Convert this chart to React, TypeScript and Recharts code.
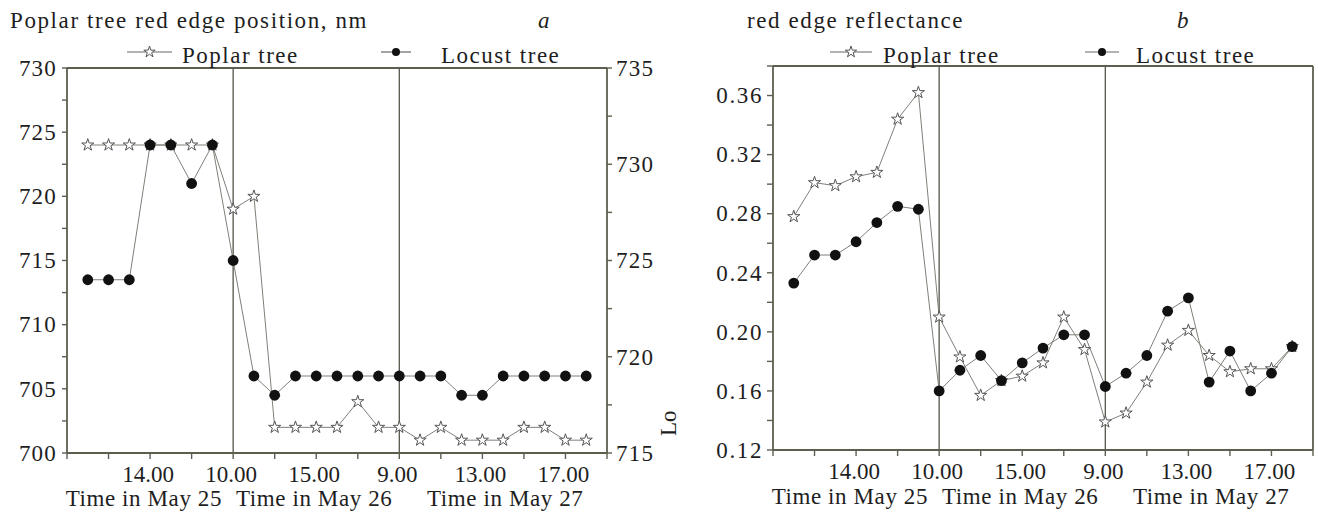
import React from 'react';
import { LineChart, Line, XAxis, YAxis, ReferenceLine, Legend, Symbols } from 'recharts';

// ---------- data ----------
const sampleIndex = [1, 2, 3, 4, 5, 6, 7, 8, 9, 10, 11, 12, 13, 14, 15, 16, 17, 18, 19, 20, 21, 22, 23, 24, 25];

// red edge position (nm): poplar on left axis, locust on right axis
const poplarPosition = [724, 724, 724, 724, 724, 724, 724, 719, 720, 702, 702, 702, 702, 704, 702, 702, 701, 702, 701, 701, 701, 702, 702, 701, 701];
const locustPosition = [724, 724, 724, 731, 731, 729, 731, 725, 719, 718, 719, 719, 719, 719, 719, 719, 719, 719, 718, 718, 719, 719, 719, 719, 719];

// red edge reflectance
const poplarReflectance = [0.278, 0.301, 0.299, 0.305, 0.308, 0.344, 0.362, 0.210, 0.183, 0.157, 0.167, 0.170, 0.179, 0.210, 0.188, 0.139, 0.145, 0.166, 0.191, 0.201, 0.184, 0.173, 0.175, 0.175, 0.190];
const locustReflectance = [0.233, 0.252, 0.252, 0.261, 0.274, 0.285, 0.283, 0.160, 0.174, 0.184, 0.167, 0.179, 0.189, 0.198, 0.198, 0.163, 0.172, 0.184, 0.214, 0.223, 0.166, 0.187, 0.160, 0.172, 0.190];

// x axis
const xTicks = [0, 2, 4, 6, 8, 10, 12, 14, 16, 18, 20, 22, 24, 26];
const xTickLabels = ['', '', '14.00', '', '10.00', '', '15.00', '', '9.00', '', '13.00', '', '17.00', ''];
const dayBoundaries = [8, 16];
const dayLabelTicks = [3.7, 11.9, 21.1];
const dayLabels = ['Time in May 25', 'Time in May 26', 'Time in May 27'];

// y axes
const positionLeftTicks = [700, 702.5, 705, 707.5, 710, 712.5, 715, 717.5, 720, 722.5, 725, 727.5, 730];
const positionLeftLabels = ['700', '', '705', '', '710', '', '715', '', '720', '', '725', '', '730'];
const positionRightTicks = [715, 717.5, 720, 722.5, 725, 727.5, 730, 732.5, 735];
const positionRightLabels = ['715', '', '720', '', '725', '', '730', '', '735'];
const reflectanceTicks = [0.12, 0.14, 0.16, 0.18, 0.2, 0.22, 0.24, 0.26, 0.28, 0.3, 0.32, 0.34, 0.36, 0.38];
const reflectanceLabels = ['0.12', '', '0.16', '', '0.20', '', '0.24', '', '0.28', '', '0.32', '', '0.36', ''];

const seriesNames = { poplar: 'Poplar tree', locust: 'Locust tree' };

const positionData = sampleIndex.map((t, i) => ({ t, poplar: poplarPosition[i], locust: locustPosition[i] }));
const reflectanceData = sampleIndex.map((t, i) => ({ t, poplar: poplarReflectance[i], locust: locustReflectance[i] }));

// ---------- style ----------
const FONT = '"Liberation Serif", "Times New Roman", serif';
const FS = 23;
const TEXT = '#1e1e1e';
const AXIS = '#5e5e50';
const SERIES = '#808079';

const labelFor = (ticks: number[], labels: string[], v: number) => {
  const i = ticks.findIndex((t) => Math.abs(t - v) < 1e-9);
  return i >= 0 ? labels[i] : '';
};

const makeXTick = (ticks: number[], labels: string[], ls: number, dx: number) => (props: any) => {
  const { x, y, payload } = props;
  const label = labelFor(ticks, labels, payload.value);
  if (!label) return <g />;
  return (
    <text x={x + dx} y={y} dy={16} textAnchor="middle" fill={TEXT} fontSize={FS} fontFamily={FONT} letterSpacing={ls}>
      {label}
    </text>
  );
};

const makeYTick = (ticks: number[], labels: string[], anchor: 'start' | 'end', ls: number) => (props: any) => {
  const { x, y, payload } = props;
  const label = labelFor(ticks, labels, payload.value);
  if (!label) return <g />;
  return (
    <text x={x} y={y} dy={7.8} textAnchor={anchor} fill={TEXT} fontSize={FS} fontFamily={FONT} letterSpacing={ls}>
      {label}
    </text>
  );
};

const StarDot = (props: any) => {
  const { cx, cy, index } = props;
  if (cx == null || cy == null) return <g key={`s${index}`} />;
  return <Symbols key={`s${index}`} cx={cx} cy={cy} type="star" size={46} fill="#fff" stroke="#555" strokeWidth={1} />;
};

const CircleDot = (props: any) => {
  const { cx, cy, index } = props;
  if (cx == null || cy == null) return <g key={`c${index}`} />;
  return <circle key={`c${index}`} cx={cx} cy={cy} r={5.4} fill="#111" stroke="none" />;
};

type LegendPos = { width: number; poplarX: number; poplarW: number; poplarTextX: number; locustX: number; locustW: number; locustTextX: number };

const makeLegend = (p: LegendPos) => (props: any) => {
  const items: any[] = props.payload || [];
  return (
    <svg width={p.width} height={32} style={{ display: 'block', overflow: 'visible' }}>
      {items.map((it) => {
        const isPoplar = it.dataKey === 'poplar';
        const x0 = isPoplar ? p.poplarX : p.locustX;
        const w = isPoplar ? p.poplarW : p.locustW;
        const tx = isPoplar ? p.poplarTextX : p.locustTextX;
        const cx = x0 + w / 2;
        return (
          <g key={it.dataKey}>
            <line x1={x0} y1={14} x2={x0 + w} y2={14} stroke="#666" strokeWidth={1.2} />
            {isPoplar ? (
              <Symbols cx={cx} cy={14} type="star" size={40} fill="#fff" stroke="#555" strokeWidth={1} />
            ) : (
              <circle cx={cx} cy={14} r={4} fill="#111" />
            )}
            <text x={tx} y={25} fill={TEXT} fontSize={FS} fontFamily={FONT} letterSpacing={1.5}>
              {it.value}
            </text>
          </g>
        );
      })}
    </svg>
  );
};

const axisLine = { stroke: AXIS, strokeWidth: 1.8 };
const tickLine = { stroke: AXIS, strokeWidth: 1.4 };

function PositionChart() {
  return (
    <LineChart width={680} height={515} data={positionData} margin={{ top: 68, right: 0, bottom: 0, left: 0 }}>
      <XAxis xAxisId="a" dataKey="t" type="number" domain={[0, 26]} ticks={xTicks} interval={0} height={30}
        axisLine={axisLine} tickLine={tickLine} tickSize={6} tickMargin={7}
        tick={makeXTick(xTicks, xTickLabels, 0, -2)} />
      <XAxis xAxisId="b" dataKey="t" type="number" domain={[0, 26]} ticks={dayLabelTicks} interval={0} height={32}
        axisLine={false} tickLine={false} tickSize={0} tickMargin={7}
        tick={makeXTick(dayLabelTicks, dayLabels, 0.6, 0)} />
      <YAxis yAxisId="left" type="number" domain={[700, 730]} ticks={positionLeftTicks} interval={0} width={67}
        axisLine={axisLine} tickLine={tickLine} tickSize={5} tickMargin={5}
        tick={makeYTick(positionLeftTicks, positionLeftLabels, 'end', 1.2)} />
      <YAxis yAxisId="right" orientation="right" type="number" domain={[715, 735]} ticks={positionRightTicks} interval={0} width={73}
        axisLine={axisLine} tickLine={tickLine} tickSize={5} tickMargin={4}
        tick={makeYTick(positionRightTicks, positionRightLabels, 'start', 1.2)} />
      <ReferenceLine xAxisId="a" yAxisId="left" y={730} stroke={AXIS} strokeWidth={1.8} />
      {dayBoundaries.map((d) => (
        <ReferenceLine key={d} xAxisId="a" yAxisId="left" x={d} stroke="#55554a" strokeWidth={1.3} />
      ))}
      <Legend layout="vertical" align="center" verticalAlign="middle"
        wrapperStyle={{ top: 38, left: 0, width: 680, height: 32 }}
        content={makeLegend({ width: 680, poplarX: 127, poplarW: 45, poplarTextX: 182, locustX: 381, locustW: 30, locustTextX: 441 })} />
      <Line xAxisId="a" yAxisId="left" dataKey="poplar" name={seriesNames.poplar} stroke={SERIES} strokeWidth={1}
        dot={StarDot} activeDot={false} isAnimationActive={false} />
      <Line xAxisId="a" yAxisId="right" dataKey="locust" name={seriesNames.locust} stroke={SERIES} strokeWidth={1}
        dot={CircleDot} activeDot={false} isAnimationActive={false} />
    </LineChart>
  );
}

function ReflectanceChart() {
  return (
    <LineChart width={628} height={515} data={reflectanceData} margin={{ top: 66, right: 5, bottom: 0, left: 0 }}>
      <XAxis xAxisId="a" dataKey="t" type="number" domain={[0, 26]} ticks={xTicks} interval={0} height={30}
        axisLine={axisLine} tickLine={tickLine} tickSize={6} tickMargin={7}
        tick={makeXTick(xTicks, xTickLabels, 0, -2)} />
      <XAxis xAxisId="b" dataKey="t" type="number" domain={[0, 26]} ticks={dayLabelTicks} interval={0} height={35}
        axisLine={false} tickLine={false} tickSize={0} tickMargin={8}
        tick={makeXTick(dayLabelTicks, dayLabels, 0.6, 0)} />
      <YAxis yAxisId="left" type="number" domain={[0.12, 0.38]} ticks={reflectanceTicks} interval={0} width={83}
        axisLine={axisLine} tickLine={tickLine} tickSize={6} tickMargin={4}
        tick={makeYTick(reflectanceTicks, reflectanceLabels, 'end', 1.6)} />
      <ReferenceLine xAxisId="a" yAxisId="left" y={0.38} stroke={AXIS} strokeWidth={1.8} />
      <ReferenceLine xAxisId="a" yAxisId="left" x={26} stroke={AXIS} strokeWidth={1.8} />
      {dayBoundaries.map((d) => (
        <ReferenceLine key={d} xAxisId="a" yAxisId="left" x={d} stroke="#55554a" strokeWidth={1.3} />
      ))}
      <Legend layout="vertical" align="center" verticalAlign="middle"
        wrapperStyle={{ top: 38, left: 0, width: 628, height: 32 }}
        content={makeLegend({ width: 628, poplarX: 140, poplarW: 42, poplarTextX: 193, locustX: 395, locustW: 34, locustTextX: 446 })} />
      <Line xAxisId="a" yAxisId="left" dataKey="poplar" name={seriesNames.poplar} stroke={SERIES} strokeWidth={1}
        dot={StarDot} activeDot={false} isAnimationActive={false} />
      <Line xAxisId="a" yAxisId="left" dataKey="locust" name={seriesNames.locust} stroke={SERIES} strokeWidth={1}
        dot={CircleDot} activeDot={false} isAnimationActive={false} />
    </LineChart>
  );
}

export default function App() {
  return (
    <div style={{ position: 'absolute', left: 0, top: 0, width: 1318, height: 515, background: '#fff', overflow: 'hidden' }}>
      <div style={{ position: 'absolute', left: 0, top: 0 }}>
        <PositionChart />
      </div>
      <div style={{ position: 'absolute', left: 690, top: 0 }}>
        <ReflectanceChart />
      </div>
      <svg width={1318} height={515} style={{ position: 'absolute', left: 0, top: 0, pointerEvents: 'none' }}>
        <g fontFamily={FONT} fontSize={FS} fill={TEXT}>
          <text x={10} y={28} letterSpacing={1.6}>Poplar tree red edge position, nm</text>
          <text x={538} y={28} fontStyle="italic">a</text>
          <text x={747} y={28} letterSpacing={1.6}>red edge reflectance</text>
          <text x={1177} y={28} fontStyle="italic">b</text>
          <text x={676} y={436} transform="rotate(-90 676 436)">Lo</text>
        </g>
      </svg>
    </div>
  );
}
